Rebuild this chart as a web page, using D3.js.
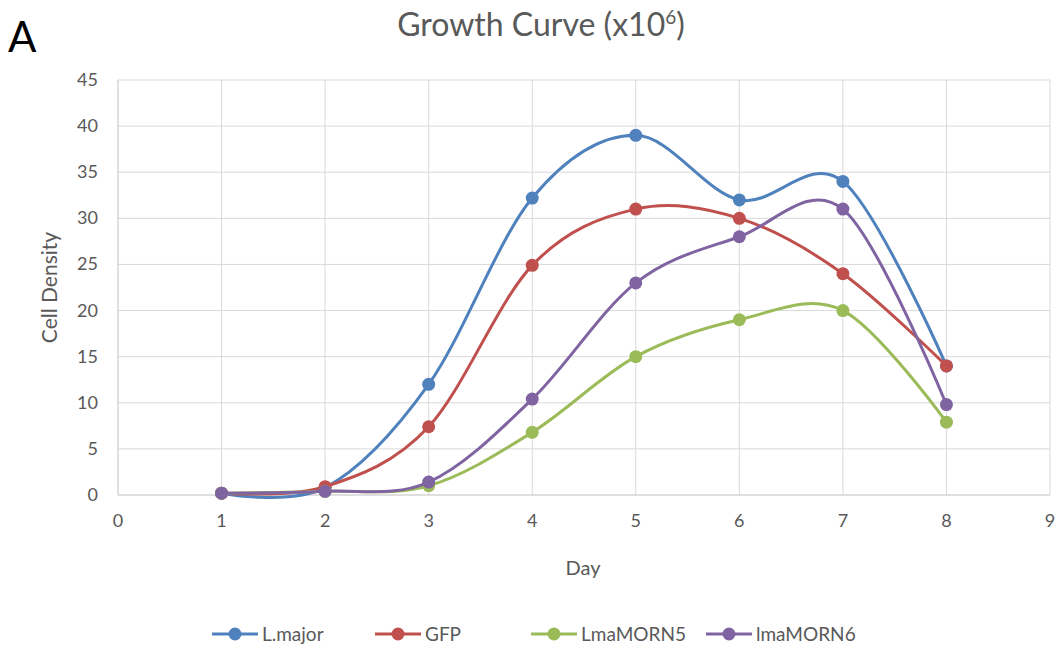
<!DOCTYPE html>
<html>
<head>
<meta charset="utf-8">
<script src="https://cdn.jsdelivr.net/npm/d3@7"></script>
<style>
  body { margin: 0; background: #fff; }
  text { font-family: Lato, "Open Sans", sans-serif; }
</style>
</head>
<body>
<div id="chart"></div>
<script>
const days = [1, 2, 3, 4, 5, 6, 7, 8]
const seriesNames = ['L.major', 'GFP', 'LmaMORN5', 'lmaMORN6']
const lmajor = [0.2, 0.8, 12, 32.2, 39, 32, 34, 14]
const gfp = [0.2, 0.9, 7.4, 24.9, 31, 30, 24, 14]
const morn5 = [0.2, 0.4, 1, 6.8, 15, 19, 20, 7.9]
const morn6 = [0.2, 0.4, 1.4, 10.4, 23, 28, 31, 9.8]
const xTicks = [0, 1, 2, 3, 4, 5, 6, 7, 8, 9]
const yTicks = [0, 5, 10, 15, 20, 25, 30, 35, 40, 45]
const colors = ['#4F81BD', '#C0504D', '#9BBB59', '#8064A2']

const width = 1059, height = 651
const margin = {top: 80, right: 9, bottom: 156, left: 118}

const svg = d3.select('#chart').append('svg')
  .attr('width', width)
  .attr('height', height)

const x = d3.scaleLinear().domain([0, 9]).range([margin.left, width - margin.right])
const y = d3.scaleLinear().domain([0, 45]).range([height - margin.bottom, margin.top])

// gridlines
svg.append('g')
  .selectAll('line')
  .data(yTicks.slice(1))
  .enter().append('line')
  .attr('x1', x(0)).attr('x2', x(9))
  .attr('y1', d => y(d)).attr('y2', d => y(d))
  .attr('stroke', '#d9d9d9').attr('stroke-width', 1)
svg.append('g')
  .selectAll('line')
  .data(xTicks.slice(1))
  .enter().append('line')
  .attr('x1', d => x(d)).attr('x2', d => x(d))
  .attr('y1', y(0)).attr('y2', y(45))
  .attr('stroke', '#d9d9d9').attr('stroke-width', 1)

// axes lines
svg.append('line')
  .attr('x1', x(0)).attr('x2', x(0)).attr('y1', y(0)).attr('y2', y(45))
  .attr('stroke', '#bfbfbf')
svg.append('line')
  .attr('x1', x(0)).attr('x2', x(9)).attr('y1', y(0)).attr('y2', y(0))
  .attr('stroke', '#bfbfbf')

// tick labels
svg.selectAll('.ylab')
  .data(yTicks)
  .enter().append('text')
  .attr('x', x(0) - 20)
  .attr('y', d => y(d) + 6)
  .style('text-anchor', 'end')
  .style('font-size', '18px')
  .style('fill', '#595959')
  .text(d => d)
svg.selectAll('.xlab')
  .data(xTicks)
  .enter().append('text')
  .attr('x', d => x(d))
  .attr('y', y(0) + 32)
  .style('text-anchor', 'middle')
  .style('font-size', '18px')
  .style('fill', '#595959')
  .text(d => d)

// titles
svg.append('text')
  .attr('x', 541).attr('y', 36)
  .style('text-anchor', 'middle')
  .style('font-size', '32px')
  .style('fill', '#595959')
  .html('Growth Curve (x10<tspan dy="-12" style="font-size:19px">6</tspan><tspan dy="12">)</tspan>')
svg.append('text')
  .attr('x', 8).attr('y', 52)
  .style('font-size', '42px')
  .style('fill', '#000')
  .text('A')
svg.append('text')
  .attr('x', 583).attr('y', 575)
  .style('text-anchor', 'middle')
  .style('font-size', '20px')
  .style('fill', '#595959')
  .text('Day')
svg.append('text')
  .attr('transform', `translate(57, ${y(22.5)}) rotate(-90)`)
  .style('text-anchor', 'middle')
  .style('font-size', '21px')
  .style('fill', '#595959')
  .text('Cell Density')

// series
const seriesData = [lmajor, gfp, morn5, morn6].map((vals, i) => ({
  name: seriesNames[i],
  color: colors[i],
  points: days.map((d, j) => ({day: d, value: vals[j]}))
}))

const line = d3.line()
  .x(d => x(d.day))
  .y(d => y(d.value))
  .curve(d3.curveCardinal.tension(0))

const series = svg.selectAll('.series')
  .data(seriesData)
  .enter().append('g')
  .attr('class', 'series')

series.append('path')
  .attr('d', d => line(d.points))
  .attr('fill', 'none')
  .attr('stroke', d => d.color)
  .attr('stroke-width', 3)

series.selectAll('circle')
  .data(d => d.points.map(p => ({...p, color: d.color})))
  .enter().append('circle')
  .attr('cx', d => x(d.day))
  .attr('cy', d => y(d.value))
  .attr('r', 6.5)
  .attr('fill', d => d.color)

// legend
const legendX = [212, 375, 531, 706]
const legend = svg.selectAll('.legend')
  .data(seriesData)
  .enter().append('g')
  .attr('class', 'legend')
  .attr('transform', (d, i) => `translate(${legendX[i]}, 634)`)
legend.append('line')
  .attr('x1', 0).attr('x2', 46)
  .attr('stroke', d => d.color)
  .attr('stroke-width', 3)
legend.append('circle')
  .attr('cx', 23).attr('r', 6.5)
  .attr('fill', d => d.color)
legend.append('text')
  .attr('x', 50).attr('y', 7)
  .style('font-size', '19px')
  .style('fill', '#595959')
  .text(d => d.name)
</script>
</body>
</html>
